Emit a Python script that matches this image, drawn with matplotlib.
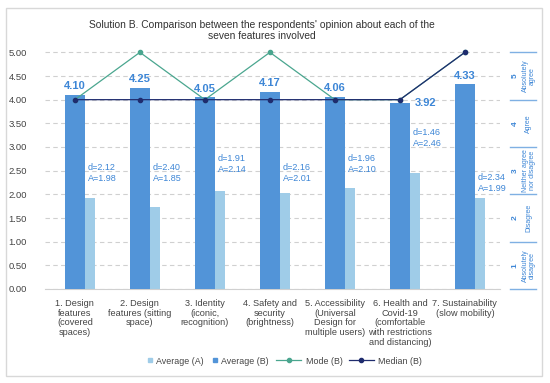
import matplotlib.pyplot as plt
from matplotlib.lines import Line2D
from matplotlib.patches import Rectangle
import matplotlib.transforms as mtransforms

plt.rcParams['font.family'] = ['Liberation Sans', 'DejaVu Sans']

# datos
categorias = [
    "1. Design\nfeatures\n(covered\nspaces)",
    "2. Design\nfeatures (sitting\nspace)",
    "3. Identity\n(iconic,\nrecognition)",
    "4. Safety and\nsecurity\n(brightness)",
    "5. Accessibility\n(Universal\nDesign for\nmultiple users)",
    "6. Health and\nCovid-19\n(comfortable\nwith restrictions\nand distancing)",
    "7. Sustainability\n(slow mobility)",
]
promedio_a = [1.93, 1.74, 2.07, 2.02, 2.14, 2.46, 1.93]
promedio_b = [4.10, 4.25, 4.05, 4.17, 4.06, 3.92, 4.33]
moda_b = [4, 5, 4, 5, 4, 4, 5]
mediana_b = [4, 4, 4, 4, 4, 4, 5]
etiquetas_d = ["2.12", "2.40", "1.91", "2.16", "1.96", "1.46", "2.34"]
etiquetas_a = ["1.98", "1.85", "2.14", "2.01", "2.10", "2.46", "1.99"]
escala_num = ["5", "4", "3", "2", "1"]
escala_txt = ["Absolutely\nagree", "Agree", "Neither agree\nnor disagree",
              "Disagree", "Absolutely\ndisagree"]

# posicion vertical de las etiquetas d/A
etiqueta_y = [2.45, 2.45, 2.64, 2.45, 2.64, 3.19, 2.24]

azul = "#5294d8"
celeste = "#9fcce8"
verde = "#4aa68f"
marino = "#1f2c6e"
texto_azul = "#3d86d6"
gris = "#444444"

fig = plt.figure(figsize=(5.5, 3.83), dpi=100)
ax = fig.add_axes([45 / 550, 1 - 289 / 383, 455 / 550, 248.5 / 383])

x = list(range(len(categorias)))
ax.bar([i + 0.155 for i in x], promedio_a, width=0.31, color=celeste, zorder=2)
ax.bar(x, promedio_b, width=0.31, color=azul, zorder=3)
ax.plot(x, moda_b, color=verde, lw=0.9, marker="o", ms=3, zorder=4)
ax.plot(x, mediana_b, color=marino, lw=0.9, marker="o", ms=3, zorder=5)

for i, v in enumerate(promedio_b):
    if i == 5:
        ax.text(i + 0.4, v + 0.02, f"{v:.2f}", color=texto_azul, fontsize=8,
                fontweight="bold", ha="center", va="center", zorder=6)
    else:
        ax.text(i, v + 0.18, f"{v:.2f}", color=texto_azul, fontsize=8,
                fontweight="bold", ha="center", va="center", zorder=6)
    ax.text(i + 0.2, etiqueta_y[i], f"d={etiquetas_d[i]}\nA={etiquetas_a[i]}",
            color=texto_azul, fontsize=6.5, ha="left", va="center",
            linespacing=1.25, zorder=6)

ax.set_xlim(-0.46, 6.54)
ax.set_ylim(0, 5.25)
ax.set_yticks([k * 0.5 for k in range(11)])
ax.set_yticklabels([f"{k * 0.5:.2f}" for k in range(11)], fontsize=6.8, color=gris)
ax.set_xticks(x)
ax.set_xticklabels(categorias, fontsize=6.6, color=gris, linespacing=1.12, va="top")
ax.tick_params(axis="both", length=0)
ax.tick_params(axis="y", pad=13)
ax.tick_params(axis="x", pad=7)
ax.grid(axis="y", color="#d0d0d0", ls=(0, (4, 3)), lw=0.8, zorder=0)
for lado in ["top", "right", "left"]:
    ax.spines[lado].set_visible(False)
ax.spines["bottom"].set_color("#d0d0d0")

# escala a la derecha
trans = mtransforms.blended_transform_factory(ax.transAxes, ax.transData)
for n in range(6):
    ax.plot([1.022, 1.079], [n, n], color="#7fb0e3", lw=1, transform=trans, clip_on=False)
for k in range(5):
    ax.text(1.033, 4.5 - k, escala_num[k], transform=trans, rotation=90, fontsize=6,
            fontweight="bold", color=texto_azul, ha="center", va="center")
    ax.text(1.063, 4.5 - k, escala_txt[k], transform=trans, rotation=90, fontsize=5,
            color=texto_azul, ha="center", va="center", linespacing=1.0)

fig.text(262 / 550, 1 - 30.5 / 383,
         "Solution B. Comparison between the respondents' opinion about each of the\nseven features involved",
         fontsize=7.4, color="#333333", ha="center", va="center", linespacing=1.1)

# leyenda (barras y lineas por separado)
h_barras = [
    Line2D([], [], color=celeste, marker="s", ls="none", ms=3.5),
    Line2D([], [], color=azul, marker="s", ls="none", ms=3.5),
]
h_lineas = [
    Line2D([], [], color=verde, marker="o", ms=3, lw=0.9),
    Line2D([], [], color=marino, marker="o", ms=3, lw=0.9),
]
fig.legend(h_barras, ["Average (A)", "Average (B)"], loc="center left",
           bbox_to_anchor=(143 / 550, 1 - 361 / 383), ncol=2, frameon=False,
           fontsize=6.4, handlelength=0.6, columnspacing=0.9, handletextpad=0.4,
           borderpad=0, labelcolor=gris)
fig.legend(h_lineas, ["Mode (B)", "Median (B)"], loc="center left",
           bbox_to_anchor=(272 / 550, 1 - 361 / 383), ncol=2, frameon=False,
           fontsize=6.4, handlelength=2.8, columnspacing=0.7, handletextpad=0.5,
           borderpad=0, labelcolor=gris)

# marco
fig.patches.append(Rectangle((6 / 550, 1 - 376 / 383), 536 / 550, 368 / 383,
                             transform=fig.transFigure, fill=False,
                             edgecolor="#d8d8d8", lw=1))

fig.savefig("out.png", dpi=100)
